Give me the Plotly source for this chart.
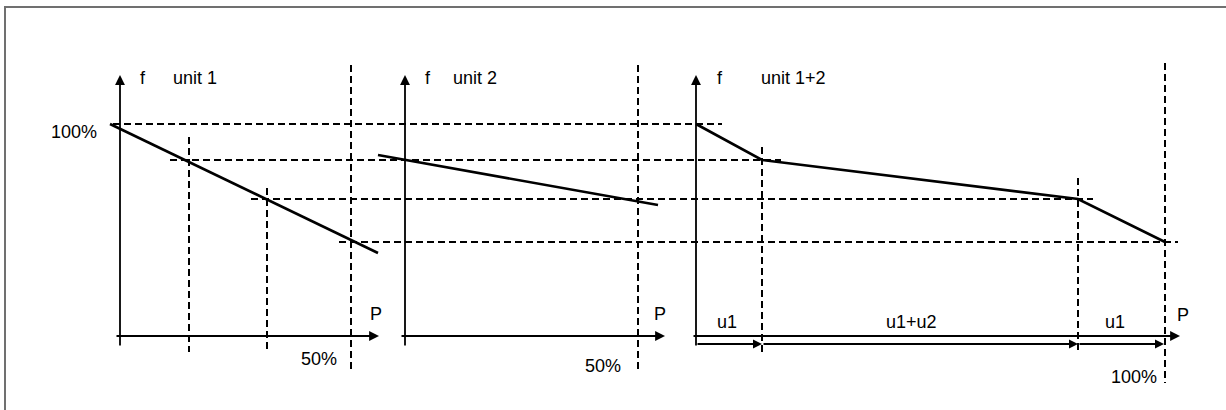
import plotly.graph_objects as go

# ---- diagram data (canvas units: x to the right, y downward) ----
# droop characteristics
unit1_x = [110, 378]
unit1_y = [124, 253]
unit2_x = [378, 658]
unit2_y = [155, 205]
combined_x = [696, 762, 1078, 1165]
combined_y = [124, 160, 199, 242]

# horizontal dashed guide lines (frequency levels)
hdash_y = [124, 160, 199, 242]
hdash_x0 = [113, 170, 251, 339]
hdash_x1 = [722, 781, 1093, 1178]

# vertical dashed guide lines (power levels)
vdash_x = [189, 267, 351, 638, 762, 1078, 1165]
vdash_y0 = [137, 188, 65, 65, 147, 178, 63]
vdash_y1 = [352, 352, 370, 370, 352, 352, 383]

# axes of the three panels
yaxis_x = [120, 405, 696]
yaxis_bottom = 347
yaxis_tip = 75
xaxis_y = 336
xaxis_x0 = [115, 400, 692]
xaxis_tip = [379, 665, 1180]

# dispatch range arrows under the combined panel
range_y = 344
range_start = [696, 762, 1078]
range_end = [762, 1078, 1164]

# text labels
label_text = ["100%", "f", "unit 1", "P", "50%",
              "f", "unit 2", "P", "50%",
              "f", "unit 1+2", "u1", "u1+u2", "u1", "P", "100%"]
label_x = [74, 143, 194.5, 376, 319,
           428, 475, 660, 603,
           720, 793, 727, 911, 1115, 1183, 1134]
label_y = [132, 78, 78, 314, 359,
           78, 78, 314, 366,
           78, 78, 322, 322, 322, 315, 377]

# frame (left and top edges visible)
frame_x = [5, 5, 1232]
frame_y = [416, 7, 7]

W, H = 1226, 410
fig = go.Figure()

# frame
fig.add_trace(go.Scatter(x=frame_x, y=frame_y, mode="lines",
                         line=dict(color="#707070", width=2), hoverinfo="skip"))

# dashed guides
dash = "7px,4px"
for y, x0, x1 in zip(hdash_y, hdash_x0, hdash_x1):
    fig.add_trace(go.Scatter(x=[x0, x1], y=[y, y], mode="lines",
                             line=dict(color="black", width=2, dash=dash), hoverinfo="skip"))
for x, y0, y1 in zip(vdash_x, vdash_y0, vdash_y1):
    fig.add_trace(go.Scatter(x=[x, x], y=[y0, y1], mode="lines",
                             line=dict(color="black", width=2, dash=dash), hoverinfo="skip"))

# axes and range arrows drawn as annotation arrows in data coordinates
def add_arrow(x0, y0, x1, y1, size):
    fig.add_annotation(x=x1, y=y1, ax=x0, ay=y0, xref="x", yref="y", axref="x", ayref="y",
                       text="", showarrow=True, arrowhead=2, arrowsize=size,
                       arrowwidth=1.8, arrowcolor="black", standoff=0, startstandoff=0)

for x in yaxis_x:
    add_arrow(x, yaxis_bottom, x, yaxis_tip, 1.1)
for x0, x1 in zip(xaxis_x0, xaxis_tip):
    add_arrow(x0, xaxis_y, x1, xaxis_y, 1.1)
for x0, x1 in zip(range_start, range_end):
    add_arrow(x0, range_y, x1, range_y, 1.0)

# characteristics
for xs, ys in [(unit1_x, unit1_y), (unit2_x, unit2_y), (combined_x, combined_y)]:
    fig.add_trace(go.Scatter(x=xs, y=ys, mode="lines",
                             line=dict(color="black", width=2.6), hoverinfo="skip"))

for t, x, y in zip(label_text, label_x, label_y):
    fig.add_annotation(x=x, y=y, text=t, showarrow=False, xanchor="center", yanchor="middle",
                       font=dict(family="Liberation Sans, Arial, sans-serif", size=18, color="black"))

fig.update_layout(
    width=W, height=H, margin=dict(l=0, r=0, t=0, b=0),
    paper_bgcolor="white", plot_bgcolor="white", showlegend=False,
    xaxis=dict(range=[0, W], visible=False, fixedrange=True),
    yaxis=dict(range=[H, 0], visible=False, fixedrange=True),
)
fig.write_html("out.html", config={"displayModeBar": False},
               post_script="document.body.style.margin='0';document.body.style.overflow='hidden';")
